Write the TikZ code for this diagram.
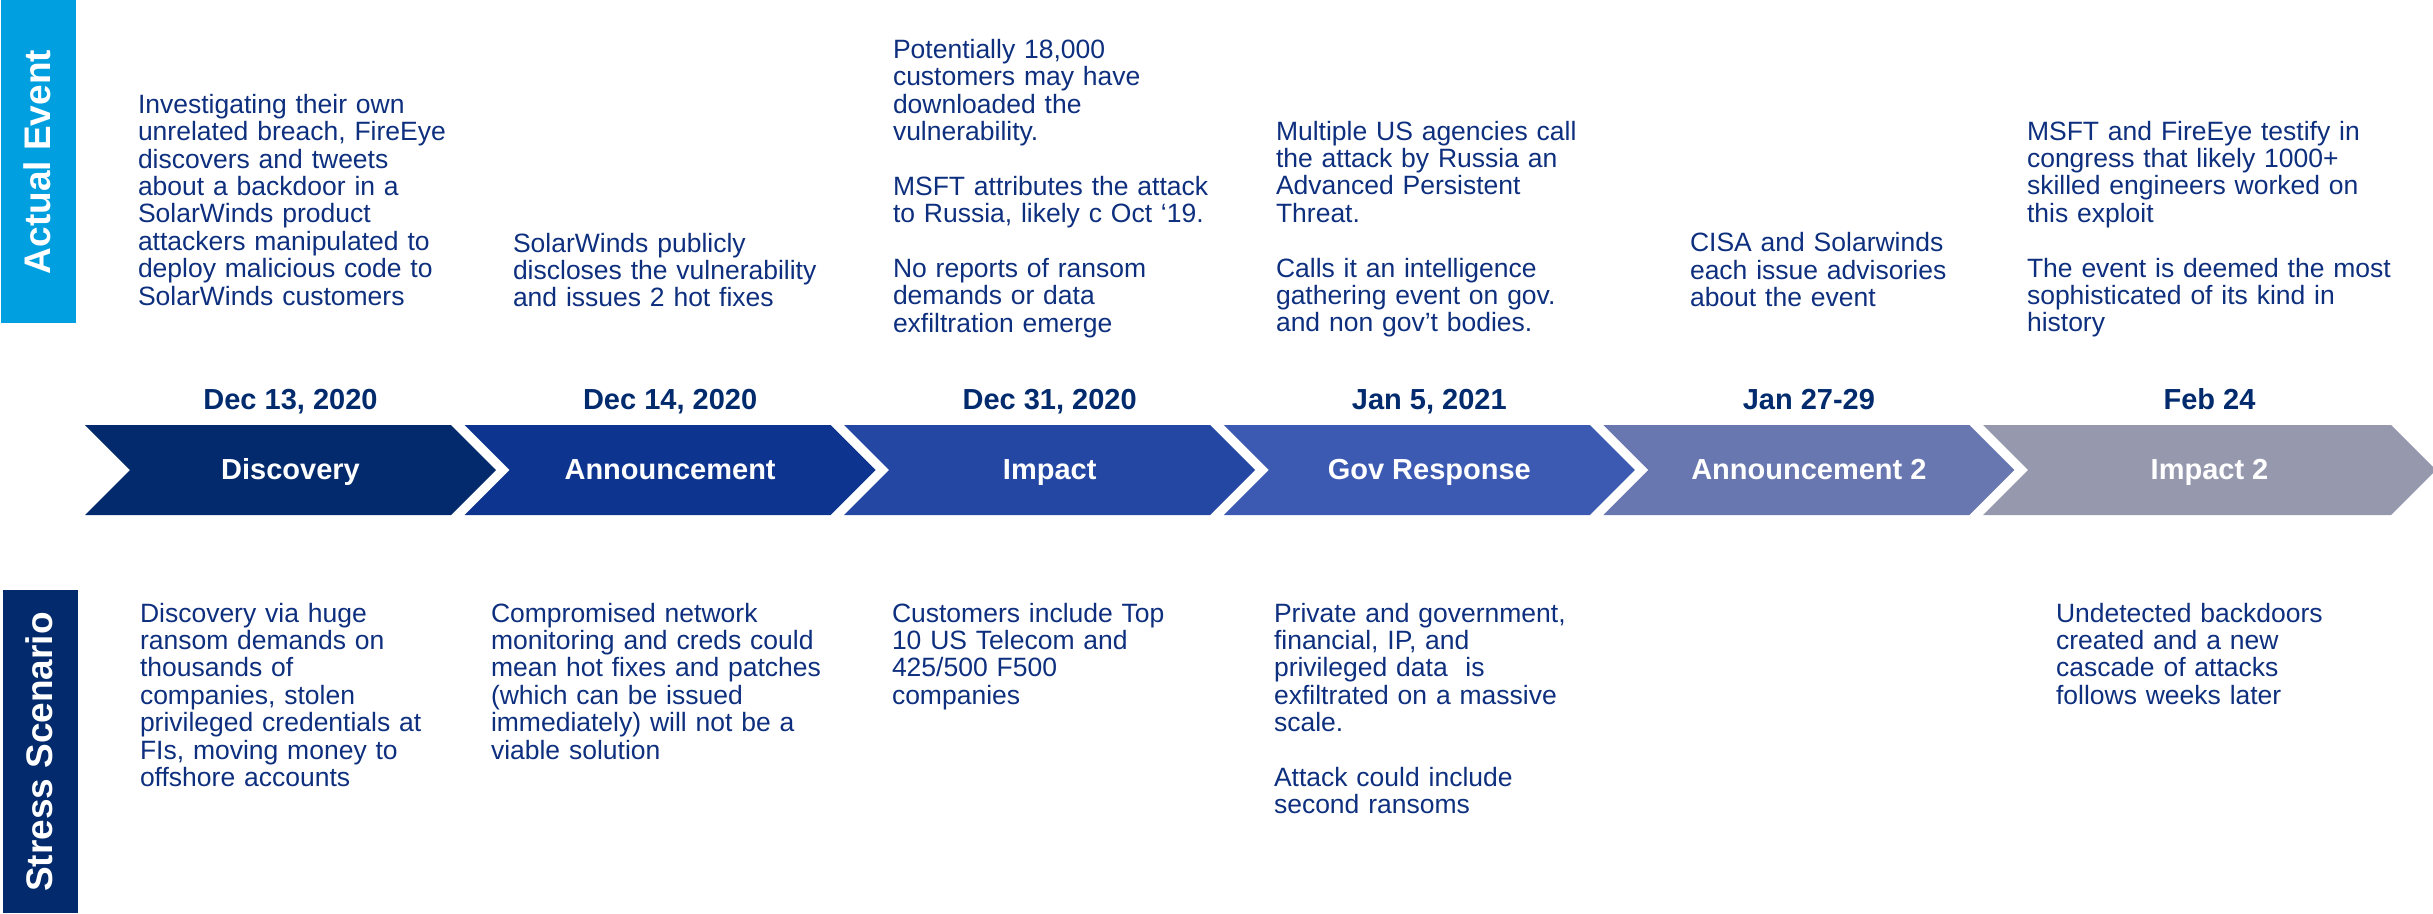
\documentclass[tikz,border=0pt]{standalone}
\usepackage{fontspec}
\setmainfont{Liberation Sans}
\definecolor{barblue}{HTML}{009FDF}
\definecolor{barnavy}{HTML}{022A6C}
\definecolor{chevA}{HTML}{022A6C}
\definecolor{chevB}{HTML}{0D3590}
\definecolor{chevC}{HTML}{2347A2}
\definecolor{chevD}{HTML}{3D5AB3}
\definecolor{chevE}{HTML}{6877B0}
\definecolor{chevF}{HTML}{9699AE}
\definecolor{bodyblue}{HTML}{0D2F7E}
\definecolor{dateblue}{HTML}{022B6E}
\begin{document}
\begin{tikzpicture}[x=0.3pt,y=-0.3pt,
  bodytext/.style={anchor=base west, inner sep=0pt, outer sep=0pt, text width=140pt, align=left,
    text=bodyblue, font=\fontsize{7.95}{8.22}\selectfont},
  datetext/.style={anchor=base, inner sep=0pt, text=dateblue, font=\fontsize{8.7}{10}\selectfont\bfseries},
  chevtext/.style={anchor=base, inner sep=0pt, text=white, font=\fontsize{8.7}{10}\selectfont\bfseries},
  sidetext/.style={rotate=90, inner sep=0pt, text=white, font=\fontsize{11.1}{13}\selectfont\bfseries}]
\useasboundingbox (0,0) rectangle (2433,913);
% side bars
\fill[barblue] (1,0) rectangle (76,323);
\node[sidetext] (actual) at (37,162) {Actual Event};
\fill[barnavy] (3,590) rectangle (78,913);
\node[sidetext] (stress) at (39.5,752) {Stress Scenario};
% chevrons
\foreach \i/\w/\c/\d/\l in {0/366/chevA/{Dec 13, 2020}/Discovery,
  1/366/chevB/{Dec 14, 2020}/Announcement,
  2/366/chevC/{Dec 31, 2020}/Impact,
  3/366/chevD/{Jan 5, 2021}/Gov Response,
  4/366/chevE/{Jan 27-29}/Announcement 2,
  5/408/chevF/{Feb 24}/Impact 2}{
  \pgfmathsetmacro\xa{85+379.6*\i}
  \pgfmathsetmacro\xc{\xa+(\w+45)/2}
  \fill[\c] (\xa,425) -- ++(\w,0) -- ++(45,45) -- ++(-45,45) -- ++(-\w,0) -- ++(45,-45) -- cycle;
  \node[datetext] (date\i) at (\xc,409) {\d};
  \node[chevtext] (lab\i) at (\xc,479) {\l};
}
% actual event texts
\node[bodytext] (t1) at (138,113.3) {Investigating their own\\unrelated breach, FireEye\\discovers and tweets\\about a backdoor in a\\SolarWinds product\\attackers manipulated to\\deploy malicious code to\\SolarWinds customers};
\node[bodytext] (t2) at (513,252) {SolarWinds publicly\\discloses the vulnerability\\and issues 2 hot fixes};
\node[bodytext] (t3) at (893,58.3) {Potentially 18,000\\customers may have\\downloaded the\\vulnerability.\\[8.22pt]MSFT attributes the attack\\to Russia, likely c Oct ‘19.\\[8.22pt]No reports of ransom\\demands or data\\exfiltration emerge};
\node[bodytext] (t4) at (1276,140) {Multiple US agencies call\\the attack by Russia an\\Advanced Persistent\\Threat.\\[8.22pt]Calls it an intelligence\\gathering event on gov.\\and non gov’t bodies.};
\node[bodytext] (t5) at (1690,251.7) {CISA and Solarwinds\\each issue advisories\\about the event};
\node[bodytext] (t6) at (2027,140) {MSFT and FireEye testify in\\congress that likely 1000+\\skilled engineers worked on\\this exploit\\[8.22pt]The event is deemed the most\\sophisticated of its kind in\\history};
% stress scenario texts
\node[bodytext] (b1) at (140,622) {Discovery via huge\\ransom demands on\\thousands of\\companies, stolen\\privileged credentials at\\FIs, moving money to\\offshore accounts};
\node[bodytext] (b2) at (491,622) {Compromised network\\monitoring and creds could\\mean hot fixes and patches\\(which can be issued\\immediately) will not be a\\viable solution};
\node[bodytext] (b3) at (892,622) {Customers include Top\\10 US Telecom and\\425/500 F500\\companies};
\node[bodytext] (b4) at (1274,622) {Private and government,\\financial, IP, and\\privileged data\ \ is\\exfiltrated on a massive\\scale.\\[8.22pt]Attack could include\\second ransoms};
\node[bodytext] (b6) at (2056,622) {Undetected backdoors\\created and a new\\cascade of attacks\\follows weeks later};
\end{tikzpicture}
\end{document}
